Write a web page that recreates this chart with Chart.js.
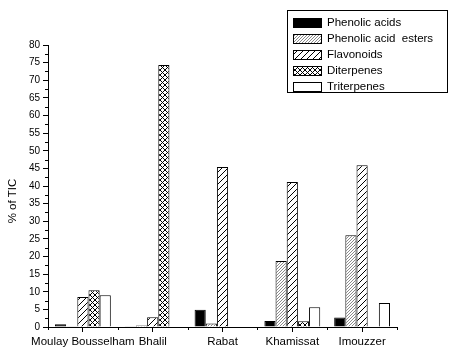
<!DOCTYPE html>
<html>
<head>
<meta charset="utf-8">
<script src="https://cdn.jsdelivr.net/npm/chart.js@4.4.1/dist/chart.umd.min.js"></script>
<style>
  html, body { margin: 0; padding: 0; background: #fff; }
  #wrap { width: 451px; height: 347px; position: relative; }
</style>
</head>
<body>
<div id="wrap"><canvas id="c"></canvas></div>
<script>
// Composition by site, % of total ion current
const categories = ['Moulay Bousselham', 'Bhalil', 'Rabat', 'Khamissat', 'Imouzzer'];
const seriesLabels = ['Phenolic acids', 'Phenolic acid  esters', 'Flavonoids', 'Diterpenes', 'Triterpenes'];
const phenolicAcids = [0.8, 0.1, 4.9, 1.7, 2.7];
const phenolicAcidEsters = [0.1, 0.4, 1.0, 18.7, 26.0];
const flavonoids = [8.5, 2.8, 45.4, 41.1, 45.9];
const diterpenes = [10.4, 74.3, 0, 1.6, 0];
const triterpenes = [9.0, 0, 0, 5.6, 6.8];
const yTicks = [0, 80, 5];   // min, max, step
const yTitle = '% of TIC';

const FONT = 'Arial, "Liberation Sans", sans-serif';

// ── hatch fills ────────────────────────────────────────────────────────────
function hatch(size, draw) {
    const cv = document.createElement('canvas');
    cv.width = size; cv.height = size;
    const g = cv.getContext('2d');
    g.fillStyle = '#fff';
    g.fillRect(0, 0, size, size);
    draw(g, size);
    return g.createPattern(cv, 'repeat');
}
function diag(g, s, dir) {
    g.beginPath();
    for (let k = -1; k <= 1; k++) {
        if (dir > 0) { g.moveTo(k * s, s); g.lineTo(k * s + s, 0); }
        else { g.moveTo(k * s, 0); g.lineTo(k * s + s, s); }
    }
    g.stroke();
}
const fineGray = hatch(3, (g, s) => { g.strokeStyle = '#8a8a8a'; g.lineWidth = 1; diag(g, s, 1); });
const wideDiag = hatch(6, (g, s) => { g.strokeStyle = '#000'; g.lineWidth = 1; diag(g, s, 1); });
const cross = hatch(5, (g, s) => { g.strokeStyle = '#000'; g.lineWidth = 1; diag(g, s, 1); diag(g, s, -1); });

const fills = ['#000', fineGray, wideDiag, cross, '#fff'];
const values = [phenolicAcids, phenolicAcidEsters, flavonoids, diterpenes, triterpenes];

// ── minor ticks, axis title + boxed legend ──────────────────────────────────
const extras = {
    id: 'extras',
    afterDraw(chart) {
        const ctx = chart.ctx;
        const x = chart.scales.x, y = chart.scales.y;
        ctx.save();
        ctx.strokeStyle = '#000';
        ctx.lineWidth = 1;
        ctx.beginPath();
        for (let v = yTicks[0] + yTicks[2] / 2; v < yTicks[1]; v += yTicks[2]) {
            const py = Math.round(y.getPixelForValue(v)) + 0.5;
            ctx.moveTo(x.left - 3, py); ctx.lineTo(x.left, py);
        }
        for (let i = 0; i <= categories.length; i++) {
            const px = Math.round(x.getPixelForValue(i - 0.5)) + 0.5;
            ctx.moveTo(px, y.bottom); ctx.lineTo(px, y.bottom + 3);
        }
        ctx.stroke();

        // y title, sitting a little below the axis middle as in the original
        ctx.fillStyle = '#000';
        ctx.font = '11.5px ' + FONT;
        ctx.textAlign = 'center';
        ctx.textBaseline = 'middle';
        ctx.save();
        ctx.translate(13, 201);
        ctx.rotate(-Math.PI / 2);
        ctx.fillText(yTitle, 0, 0);
        ctx.restore();

        // legend
        ctx.textAlign = 'left';
        ctx.strokeRect(287.5, 10.5, 160, 82);
        chart.data.datasets.forEach((ds, i) => {
            const cy = 23 + i * 16;
            ctx.fillStyle = ds.backgroundColor;
            ctx.fillRect(293, cy - 5, 29, 10);
            ctx.strokeRect(293.5, cy - 4.5, 28, 9);
            ctx.fillStyle = '#000';
            ctx.fillText(ds.label, 327, cy);
        });
        ctx.restore();
    }
};

new Chart(document.getElementById('c'), {
    type: 'bar',
    data: {
        labels: categories,
        datasets: seriesLabels.map((label, i) => ({
            label,
            data: values[i],
            backgroundColor: fills[i],
            borderColor: '#000',
            borderWidth: 1,
            categoryPercentage: 0.8,
            barPercentage: 1
        }))
    },
    options: {
        responsive: true,
        maintainAspectRatio: false,
        animation: false,
        layout: { padding: { top: 45, right: 54, left: 0, bottom: 0 } },
        plugins: { legend: { display: false }, tooltip: { enabled: false } },
        scales: {
            x: {
                offset: true,
                afterFit: s => { s.height = 20; },
                grid: { display: true, drawOnChartArea: false, offset: false, tickLength: 5, color: '#000' },
                border: { color: '#000', width: 1 },
                ticks: { color: '#000', font: { family: FONT, size: 11.5 }, padding: 3, maxRotation: 0, autoSkip: false }
            },
            y: {
                min: yTicks[0],
                max: yTicks[1],
                afterFit: s => { s.width = 48; },
                grid: { drawOnChartArea: false, tickLength: 5, color: '#000' },
                border: { color: '#000', width: 1 },
                ticks: { stepSize: yTicks[2], color: '#000', font: { family: FONT, size: 10 }, padding: 3 }
            }
        }
    },
    plugins: [extras]
});
</script>
</body>
</html>
